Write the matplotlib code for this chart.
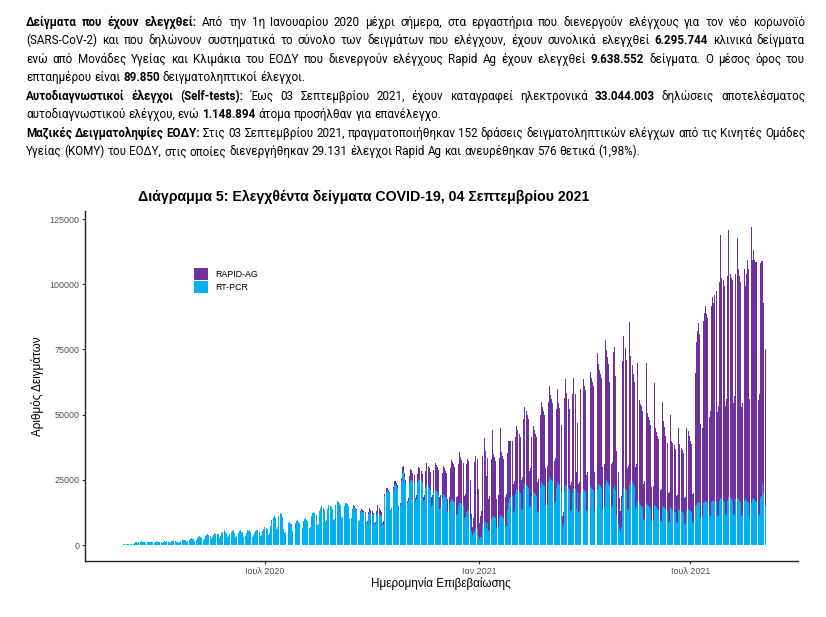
import numpy as np
import pandas as pd
import matplotlib
matplotlib.use("Agg")
import matplotlib.pyplot as plt
import matplotlib.dates as mdates

START_DATE = "2020-02-24"
RAPID_START = "2020-09-14"

# daily samples (thousands), one row per week, Mon..Sun
PCR_K = [
    [0, 0, 0.1, 0.2, 0.2, 0.1, 0.2],
    [0.3, 0.3, 0.4, 0.4, 0.3, 0.2, 0.4],
    [0.5, 0.6, 0.8, 1.2, 1.1, 0.8, 1.0],
    [1.3, 1.4, 1.3, 1.2, 1.2, 0.8, 1.1],
    [1.3, 1.2, 1.3, 1.2, 1.1, 0.9, 1.2],
    [1.4, 1.2, 1.3, 1.2, 1.3, 0.8, 1.3],
    [1.5, 1.3, 1.4, 1.3, 1.2, 0.9, 1.4],
    [1.5, 1.6, 1.4, 1.3, 1.0, 0.8, 1.0],
    [1.6, 1.8, 2.0, 1.9, 1.8, 1.0, 1.5],
    [2.0, 2.5, 2.6, 2.4, 2.2, 1.4, 1.8],
    [2.8, 3.2, 3.4, 3.0, 2.9, 1.8, 2.4],
    [3.5, 4.0, 4.2, 3.9, 3.6, 2.3, 3.0],
    [4.0, 4.6, 4.4, 4.3, 4.1, 2.6, 3.4],
    [4.5, 5.2, 5.6, 5.0, 4.8, 3.0, 3.6],
    [4.4, 5.0, 5.3, 5.6, 4.6, 3.0, 3.5],
    [4.5, 5.4, 5.8, 5.2, 5.0, 3.1, 3.6],
    [4.6, 5.6, 5.4, 5.7, 5.1, 3.2, 3.7],
    [4.8, 5.5, 5.9, 5.6, 5.2, 3.3, 3.8],
    [5.3, 6.3, 6.8, 6.6, 6.0, 4.0, 4.6],
    [7.2, 9.5, 10.8, 11.2, 10.5, 6.0, 7.0],
    [11.0, 12.2, 11.8, 10.8, 6.0, 4.5, 5.0],
    [7.8, 8.5, 8.7, 8.4, 8.0, 5.5, 6.0],
    [8.4, 9.2, 9.5, 9.0, 8.6, 6.0, 6.4],
    [9.2, 10.1, 10.3, 9.8, 9.4, 6.5, 7.0],
    [11.0, 12.4, 12.8, 12.2, 11.6, 7.8, 8.2],
    [13.0, 14.4, 14.8, 14.2, 13.5, 9.0, 9.6],
    [13.8, 15.2, 15.0, 14.6, 14.0, 9.5, 10.0],
    [15.2, 16.8, 16.5, 16.0, 15.4, 10.2, 10.8],
    [14.8, 16.2, 16.0, 15.6, 15.0, 10.0, 10.5],
    [13.6, 14.8, 14.4, 14.0, 13.5, 9.2, 9.5],
    [12.4, 13.0, 12.8, 12.5, 12.0, 8.4, 8.8],
    [11.8, 12.6, 12.4, 12.0, 11.5, 8.0, 8.5],
    [11.5, 12.2, 12.0, 11.6, 11.0, 7.8, 8.2],
    [19.0, 20.8, 21.0, 20.5, 19.8, 13.0, 14.0],
    [21.2, 23.0, 23.5, 22.8, 22.0, 14.5, 15.5],
    [24.0, 27.5, 28.5, 26.0, 23.5, 16.0, 17.0],
    [23.5, 25.0, 24.8, 24.2, 23.6, 16.5, 17.5],
    [23.8, 25.2, 25.0, 24.5, 23.8, 16.8, 17.2],
    [21.8, 23.2, 22.6, 22.0, 21.2, 15.0, 15.5],
    [19.8, 21.0, 20.6, 20.2, 19.6, 13.8, 14.2],
    [18.0, 19.5, 19.0, 18.6, 18.0, 12.6, 13.0],
    [16.5, 17.8, 17.4, 17.0, 16.4, 11.4, 11.8],
    [15.2, 16.2, 16.0, 15.6, 15.0, 10.4, 10.8],
    [12.8, 13.6, 13.2, 10.0, 5.5, 4.0, 4.5],
    [5.5, 6.2, 6.0, 3.5, 2.5, 3.0, 3.2],
    [8.0, 9.2, 9.0, 6.5, 8.5, 5.5, 5.8],
    [10.0, 11.2, 11.0, 10.6, 10.2, 6.8, 7.2],
    [10.4, 11.6, 11.2, 10.8, 10.4, 7.0, 7.4],
    [13.5, 16.0, 17.5, 18.5, 19.0, 12.5, 13.0],
    [19.5, 21.5, 21.0, 20.5, 20.0, 13.5, 14.0],
    [21.5, 23.5, 23.0, 22.5, 22.0, 14.5, 15.0],
    [19.0, 20.5, 20.0, 19.6, 19.0, 12.8, 13.2],
    [22.0, 24.0, 23.5, 23.0, 22.5, 15.0, 15.5],
    [24.0, 26.0, 25.5, 25.0, 24.4, 16.2, 16.8],
    [22.0, 24.0, 23.5, 23.0, 20.0, 7.0, 8.0],
    [20.5, 23.0, 22.5, 22.0, 21.0, 13.0, 13.5],
    [20.0, 22.0, 21.5, 14.0, 20.0, 12.5, 13.0],
    [20.0, 22.0, 21.5, 21.0, 20.5, 13.0, 13.5],
    [21.0, 22.5, 22.0, 21.5, 21.0, 13.0, 13.5],
    [21.5, 23.5, 23.0, 22.5, 22.0, 14.0, 14.5],
    [23.0, 24.8, 24.2, 23.5, 22.5, 14.5, 15.0],
    [22.0, 23.0, 21.0, 12.0, 8.0, 6.0, 5.0],
    [7.0, 18.5, 22.0, 21.5, 21.0, 13.5, 14.0],
    [23.0, 24.5, 24.0, 23.5, 22.5, 14.0, 14.5],
    [17.0, 16.0, 15.5, 15.0, 14.5, 9.5, 10.0],
    [16.0, 15.5, 15.0, 14.6, 14.0, 9.2, 9.6],
    [15.5, 15.0, 14.5, 14.0, 13.5, 9.0, 9.4],
    [15.0, 14.6, 14.2, 13.8, 13.2, 8.8, 9.2],
    [14.5, 14.0, 13.6, 13.2, 12.8, 8.5, 8.8],
    [14.0, 13.6, 13.2, 12.8, 12.4, 8.2, 8.6],
    [13.5, 13.8, 13.4, 13.0, 12.6, 8.4, 8.8],
    [15.0, 15.5, 16.0, 16.5, 16.0, 10.5, 11.0],
    [16.0, 16.5, 17.0, 16.5, 16.0, 11.0, 11.5],
    [16.5, 17.0, 17.0, 16.8, 16.5, 11.0, 11.5],
    [17.0, 18.0, 17.5, 17.0, 16.5, 11.5, 12.0],
    [17.0, 18.5, 18.0, 17.5, 17.0, 11.5, 12.0],
    [17.5, 18.0, 17.5, 17.0, 16.5, 11.0, 11.5],
    [17.0, 17.5, 17.0, 16.5, 16.0, 11.0, 16.0],
    [17.5, 18.0, 17.5, 17.0, 16.5, 11.5, 12.0],
    [18.0, 19.0, 23.5, 20.0, 15.0],
]

# rapid antigen tests (thousands), weekly rows from RAPID_START
RAPID_K = [
    [0.3, 0.6, 0.5, 0.4, 0.4, 0.2, 0.2],
    [0.5, 0.9, 0.8, 0.6, 0.5, 0.3, 0.3],
    [0.8, 1.5, 1.2, 1.0, 0.9, 0.4, 0.5],
    [1.5, 3.0, 2.4, 2.0, 1.8, 0.8, 0.9],
    [0.6, 0.9, 0.8, 0.8, 0.7, 0.4, 0.4],
    [1.0, 1.5, 1.2, 1.1, 1.0, 0.5, 0.6],
    [1.6, 2.4, 2.0, 1.8, 1.6, 0.8, 1.0],
    [3.0, 4.2, 4.0, 3.6, 3.2, 1.6, 1.8],
    [3.6, 4.6, 4.4, 4.0, 3.5, 1.8, 2.0],
    [6.5, 8.2, 7.8, 7.4, 6.8, 3.4, 3.6],
    [9.0, 10.6, 10.2, 9.8, 9.2, 4.8, 5.0],
    [9.8, 10.8, 10.5, 10.0, 9.6, 5.2, 5.4],
    [13.2, 15.0, 14.6, 14.0, 13.4, 7.0, 7.2],
    [15.8, 19.6, 17.6, 17.0, 16.4, 8.6, 8.8],
    [18.4, 19.6, 19.2, 15.0, 6.5, 3.0, 6.0],
    [26.5, 28.0, 27.0, 18.0, 6.0, 8.0, 10.0],
    [26.0, 31.8, 27.0, 20.0, 25.0, 12.0, 13.0],
    [23.0, 32.8, 24.0, 23.0, 22.0, 11.0, 12.0],
    [23.0, 33.4, 24.5, 23.5, 22.5, 11.5, 12.0],
    [22.0, 24.0, 22.5, 21.5, 21.0, 11.0, 11.5],
    [22.0, 24.0, 23.0, 22.0, 21.5, 11.5, 12.0],
    [27.0, 29.5, 28.5, 27.5, 26.5, 14.0, 14.5],
    [22.5, 25.0, 24.0, 23.0, 22.5, 11.5, 12.0],
    [28.0, 31.0, 29.5, 28.5, 27.5, 14.5, 15.0],
    [31.0, 35.0, 32.0, 31.0, 30.0, 16.0, 16.5],
    [30.0, 36.0, 31.0, 29.5, 26.0, 4.0, 4.5],
    [36.0, 40.5, 36.0, 34.0, 31.0, 10.0, 10.5],
    [38.0, 42.0, 36.5, 14.0, 27.0, 11.0, 11.0],
    [40.0, 44.0, 42.0, 40.0, 39.0, 14.0, 14.5],
    [53.6, 44.0, 42.0, 41.0, 40.0, 15.0, 15.5],
    [52.0, 46.0, 44.0, 43.0, 42.0, 16.0, 16.5],
    [55.5, 50.0, 48.0, 46.0, 40.0, 16.5, 17.0],
    [52.0, 53.0, 44.0, 24.0, 20.0, 12.0, 8.0],
    [12.0, 52.0, 58.0, 54.0, 50.0, 16.0, 16.5],
    [62.5, 48.0, 45.0, 42.0, 40.0, 16.0, 16.5],
    [53.0, 39.5, 38.5, 38.5, 37.0, 14.0, 14.5],
    [54.0, 35.0, 34.0, 33.5, 32.0, 13.0, 13.0],
    [46.5, 30.0, 29.0, 28.0, 27.0, 12.0, 12.0],
    [40.0, 33.0, 31.0, 28.0, 26.0, 11.0, 11.0],
    [35.5, 26.0, 25.5, 25.0, 24.0, 10.5, 10.5],
    [31.0, 25.0, 24.0, 23.5, 23.0, 10.0, 10.0],
    [31.5, 30.0, 28.5, 27.0, 26.0, 11.0, 11.0],
    [51.0, 62.5, 66.0, 68.5, 65.0, 36.0, 34.0],
    [70.0, 72.5, 74.5, 72.0, 71.0, 38.0, 40.0],
    [75.0, 78.0, 76.0, 79.0, 81.0, 40.0, 42.0],
    [84.0, 100.8, 85.0, 84.5, 83.0, 42.0, 44.0],
    [86.0, 102.2, 86.0, 85.0, 84.5, 43.0, 45.0],
    [86.5, 99.7, 88.5, 86.0, 84.5, 42.0, 43.0],
    [89.0, 82.0, 87.0, 93.0, 90.0, 45.0, 106.0],
    [92.0, 95.0, 92.0, 91.5, 92.0, 44.0, 46.0],
    [90.0, 90.0, 85.5, 73.0, 60.0],
]

TICK_DATES = ["2020-07-01", "2021-01-01", "2021-07-01"]
TICK_LABELS = ["Ιουλ 2020", "Ιαν 2021", "Ιουλ 2021"]
Y_TICKS = [0, 25000, 50000, 75000, 100000, 125000]

COL_RAPID = "#7030A0"
COL_PCR = "#00B0F0"

TITLE = "Διάγραμμα 5: Ελεγχθέντα δείγματα COVID-19, 04 Σεπτεμβρίου 2021"

# paragraph lines: (segments, justified)
PARAGRAPH = [
    ([("Δείγματα που έχουν ελεγχθεί:", True),
      ("Από την 1η Ιανουαρίου 2020 μέχρι σήμερα, στα εργαστήρια που διενεργούν ελέγχους για τον νέο κορωνοϊό", False)], True),
    ([("(SARS-CoV-2) και που δηλώνουν συστηματικά το σύνολο των δειγμάτων που ελέγχουν, έχουν συνολικά ελεγχθεί", False),
      ("6.295.744", True), ("κλινικά δείγματα", False)], True),
    ([("ενώ από Μονάδες Υγείας και Κλιμάκια του ΕΟΔΥ που διενεργούν ελέγχους Rapid Ag έχουν ελεγχθεί", False),
      ("9.638.552", True), ("δείγματα.  Ο μέσος όρος του", False)], True),
    ([("επταημέρου είναι", False), ("89.850", True), ("δειγματοληπτικοί έλεγχοι.", False)], False),
    ([("Αυτοδιαγνωστικοί έλεγχοι (Self-tests):", True),
      ("Έως 03 Σεπτεμβρίου 2021, έχουν καταγραφεί ηλεκτρονικά", False),
      ("33.044.003", True), ("δηλώσεις αποτελέσματος", False)], True),
    ([("αυτοδιαγνωστικού ελέγχου, ενώ", False), ("1.148.894", True),
      ("άτομα προσήλθαν για επανέλεγχο.", False)], False),
    ([("Μαζικές Δειγματοληψίες ΕΟΔΥ:", True),
      ("Στις 03 Σεπτεμβρίου 2021, πραγματοποιήθηκαν 152 δράσεις δειγματοληπτικών ελέγχων από τις Κινητές Ομάδες", False)], True),
    ([("Υγείας (ΚΟΜΥ) του ΕΟΔΥ, στις οποίες διενεργήθηκαν 29.131 έλεγχοι Rapid Ag και ανευρέθηκαν 576 θετικά (1,98%).", False)], False),
]

# ---- data ----
pcr = np.array(sum(PCR_K, []), dtype=float) * 1000
rapid_vals = np.array(sum(RAPID_K, []), dtype=float) * 1000
dates = pd.date_range(START_DATE, periods=len(pcr), freq="D")
rapid = np.zeros(len(pcr))
off = (pd.Timestamp(RAPID_START) - pd.Timestamp(START_DATE)).days
rapid[off:off + len(rapid_vals)] = rapid_vals
total = pcr + rapid

# ---- figure ----
W, H = 826, 617
fig = plt.figure(figsize=(W / 100, H / 100), dpi=100)
renderer = fig.canvas.get_renderer()

BODY_FONT = ["Roboto", "DejaVu Sans"]
TEXT_LEFT, TEXT_RIGHT = 26, 805


def make_words(segs, size):
    objs = []
    for txt, bold in segs:
        for w in txt.split():
            objs.append(fig.text(0, 0, w, fontsize=size, family=BODY_FONT,
                                 fontweight="bold" if bold else "normal",
                                 va="baseline", ha="left"))
    return objs


def space_width(size):
    a = fig.text(0, 0, "n n", fontsize=size, family=BODY_FONT)
    b = fig.text(0, 0, "nn", fontsize=size, family=BODY_FONT)
    s = a.get_window_extent(renderer).width - b.get_window_extent(renderer).width
    a.remove()
    b.remove()
    return s


# fit body font size to the width of the last (unjustified) line
probe = make_words(PARAGRAPH[-1][0], 10)
w10 = sum(t.get_window_extent(renderer).width for t in probe) + space_width(10) * (len(probe) - 1)
for t in probe:
    t.remove()
body_size = 10 * 608 / w10
sp = space_width(body_size)

for i, (segs, justify) in enumerate(PARAGRAPH):
    y = 26 + 18.45 * i  # baseline
    objs = make_words(segs, body_size)
    widths = [t.get_window_extent(renderer).width for t in objs]
    gap = (TEXT_RIGHT - TEXT_LEFT - sum(widths)) / (len(objs) - 1) if justify else sp
    x = TEXT_LEFT
    for t, w in zip(objs, widths):
        t.set_position((x / W, 1 - y / H))
        x += w + gap

fig.text(364 / W, 1 - 197 / H, TITLE, fontsize=10.2, fontweight="bold",
         family="Liberation Sans", ha="center", va="center")

ax = fig.add_axes([85 / W, 1 - 561 / H, 713 / W, 350 / H])
ax.bar(dates, pcr, width=0.85, color=COL_PCR, linewidth=0, label="RT-PCR")
ax.bar(dates, rapid, width=0.85, bottom=pcr, color=COL_RAPID, linewidth=0, label="RAPID-AG")

nz = np.nonzero(total)[0]
x0 = mdates.date2num(dates[nz[0]]) - 0.45
x1 = mdates.date2num(dates[-1]) + 0.45
pad = 0.05 * (x1 - x0)
ax.set_xlim(x0 - pad, x1 + pad)
ymax = total.max()
ax.set_ylim(-0.05 * ymax, 1.05 * ymax)

ax.set_xticks([mdates.date2num(pd.Timestamp(d)) for d in TICK_DATES])
ax.set_xticklabels(TICK_LABELS)
ax.set_yticks(Y_TICKS)
ax.set_yticklabels([str(v) for v in Y_TICKS])
ax.tick_params(axis="both", labelsize=6.4, colors="#333333", labelcolor="#4D4D4D",
               length=2.5, width=0.8, pad=1.5)
for lab in ax.get_xticklabels() + ax.get_yticklabels():
    lab.set_family("Liberation Sans")

for s in ["top", "right"]:
    ax.spines[s].set_visible(False)
for s in ["left", "bottom"]:
    ax.spines[s].set_linewidth(1.0)
    ax.spines[s].set_color("#222222")

handles, labels = ax.get_legend_handles_labels()
leg = ax.legend(handles[::-1], labels[::-1], loc="upper left",
                bbox_to_anchor=(0.153, 0.836), frameon=False,
                prop={"family": "Liberation Sans", "size": 6.4},
                handlelength=1.6, handleheight=1.6, labelspacing=0.15,
                handletextpad=0.8, borderpad=0, borderaxespad=0)

fig.text(441 / W, 1 - 584 / H, "Ημερομηνία Επιβεβαίωσης", fontsize=8.4,
         family="Liberation Sans", ha="center", va="center")
fig.text(38 / W, 1 - 386 / H, "Αριθμός Δειγμάτων", fontsize=8.4, rotation=90,
         family="Liberation Sans", ha="center", va="center")

fig.savefig("out.png", dpi=100, facecolor="white")
